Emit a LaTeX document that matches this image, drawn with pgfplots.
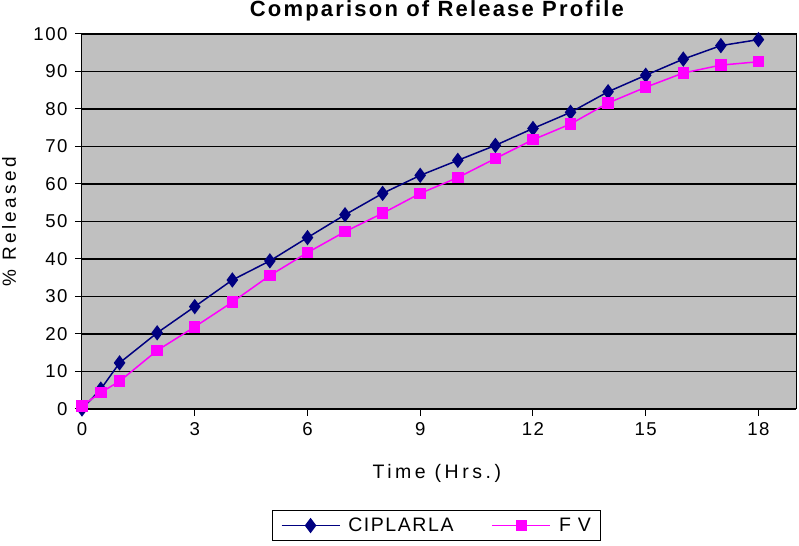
\documentclass[border=0pt]{standalone}
\usepackage{fontspec}
\setmainfont{Liberation Sans}
\usepackage{pgfplots}
\pgfplotsset{compat=1.18}
\definecolor{navyb}{RGB}{0,0,128}
\definecolor{mag}{RGB}{255,0,255}
\definecolor{bg}{RGB}{192,192,192}
\newfontfamily\spaced[LetterSpace=18]{Liberation Sans}
\newfontfamily\tickf[LetterSpace=8]{Liberation Sans}
\newfontfamily\titlef[LetterSpace=10]{Liberation Sans Bold}
\begin{document}
\begin{tikzpicture}[x=1bp,y=1bp]
\begin{axis}[
  at={(0,0)}, anchor=south west, clip=false,
  scale only axis, width=714bp, height=375bp,
  xmin=0, xmax=19, ymin=0, ymax=100,
  xtick={0,3,...,18}, ytick={0,10,...,100},
  axis background/.style={fill=bg},
  ymajorgrids, major grid style={black, line width=1.3bp},
  axis line style={black, line width=1bp},
  tick style={black, line width=1bp},
  major tick length=7bp, tick align=outside, tick pos=left,
  /pgf/number format/assume math mode=true,
  ticklabel style={font=\tickf\fontsize{18.6bp}{22bp}\selectfont},
  xticklabel style={yshift=-3bp},
  yticklabel style={xshift=-4bp},
  xlabel={Time (Hrs.)},
  xlabel style={at={(axis description cs:0.497,-0.1707)}, anchor=center, font=\spaced\fontsize{19.5bp}{23bp}\selectfont},
  ylabel={\% Released},
  ylabel style={at={(axis description cs:-0.1022,0.5)}, anchor=center, rotate=0, font=\spaced\fontsize{19bp}{23bp}\selectfont},
  legend style={at={(axis description cs:0.497,-0.3107)}, anchor=center, legend columns=2,
    draw=black, line width=1bp, fill=white, font=\tickf\fontsize{19.5bp}{23bp}\selectfont,
    inner xsep=8bp, inner ysep=5bp,
    /tikz/every even column/.append style={column sep=36bp},
    /tikz/every odd column/.append style={column sep=6bp}},
  legend image code/.code={\draw[mark repeat=2,mark phase=2,line width=1.5bp] plot coordinates {(0bp,0bp) (29bp,0bp) (58bp,0bp)};},
]
\addplot[navyb, line width=1.5bp, mark=diamond*, mark size=6.5bp, mark options={solid, fill=navyb, draw=navyb}] coordinates {
(0,0) (0.5,5.3) (1,12.3) (2,20.3) (3,27.3) (4,34.4) (5,39.5) (6,45.7) (7,51.8) (8,57.5) (9,62.3) (10,66.3) (11,70.3) (12,74.8) (13,79.1) (14,84.6) (15,89.0) (16,93.3) (17,96.9) (18,98.5)
};
\addlegendentry{CIPLARLA}
\addplot[mag, line width=1.5bp, mark=square*, mark size=5bp, mark options={solid, fill=mag, draw=mag}] coordinates {
(0,0.8) (0.5,4.4) (1,7.4) (2,15.6) (3,21.9) (4,28.5) (5,35.6) (6,41.7) (7,47.3) (8,52.2) (9,57.5) (10,61.7) (11,66.8) (12,71.8) (13,76.0) (14,81.6) (15,85.8) (16,89.6) (17,91.7) (18,92.6)
};
\addlegendentry{F V}
\node[font=\titlef\fontsize{22bp}{26bp}\selectfont, anchor=center, yshift=23bp, inner sep=0pt] at (rel axis cs:0.497,1) {Comparison of Release Profile};
\end{axis}
\pgfresetboundingbox
\path[use as bounding box] (-82,-137) rectangle (717,409);
\end{tikzpicture}
\end{document}
